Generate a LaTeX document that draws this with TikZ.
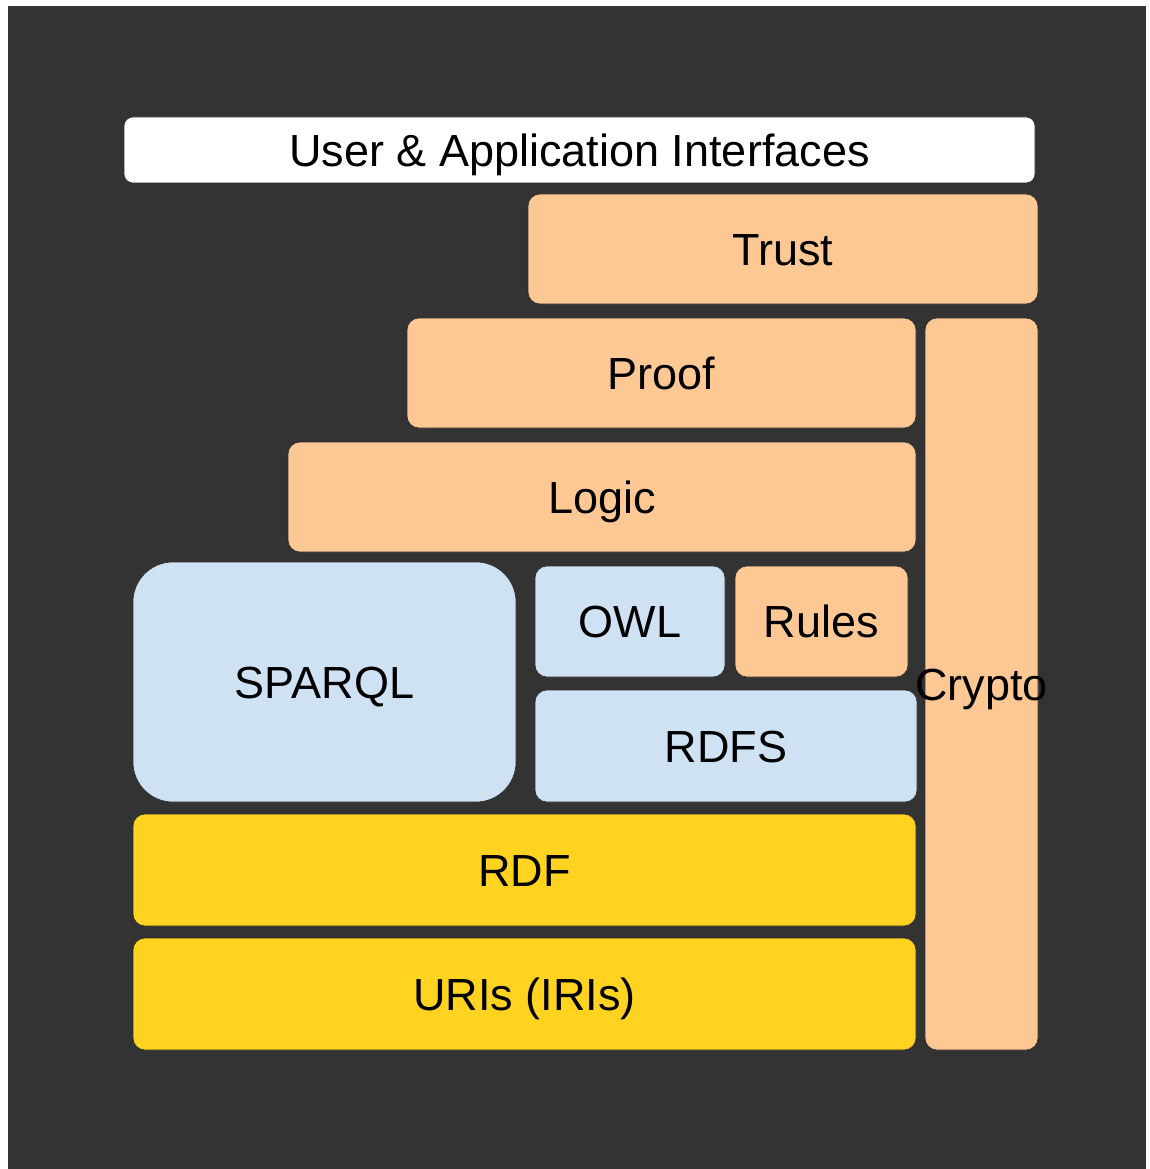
\documentclass[tikz,border=0pt]{standalone}
\usepackage{fontspec}
\setmainfont{Liberation Sans}
\definecolor{bgdark}{HTML}{333333}
\definecolor{peach}{HTML}{FEC895}
\definecolor{lblue}{HTML}{CFE2F3}
\definecolor{yel}{HTML}{FFD320}
\definecolor{edge}{HTML}{2A2A2A}
\begin{document}
\begin{tikzpicture}[x=1pt,y=-1pt,
  lbl/.style={font=\fontsize{45}{54}\selectfont, text=black, text height=32.2pt, text depth=0pt},
  blk/.style={rectangle, rounded corners=12pt, inner sep=0pt, draw=edge, line width=0.6pt, lbl},
  peachblk/.style={blk, fill=peach},
  blueblk/.style={blk, fill=lblue},
  yelblk/.style={blk, fill=yel}]
\useasboundingbox (0,0) rectangle (1149,1169);
\fill[white] (0,0) rectangle (1149,1169);
\fill[bgdark] (8,6) rectangle (1146,1169);
% User & Application Interfaces
\node[blk, fill=white, rounded corners=9pt, minimum width=911pt, minimum height=66pt] (ui) at (579.5,150) {User \& Application Interfaces};
\node[peachblk, minimum width=510pt, minimum height=110pt] (trust) at (783,249) {Trust};
\node[peachblk, minimum width=509pt, minimum height=110pt] (proof) at (661.5,373) {Proof};
\node[peachblk, minimum width=113pt, minimum height=732pt] (cryptobox) at (981.5,684) {};
\node[peachblk, minimum width=628pt, minimum height=110pt] (logic) at (602,497) {Logic};
\node[blueblk, rounded corners=40pt, minimum width=383pt, minimum height=240pt] (sparql) at (324.5,682) {SPARQL};
\node[blueblk, minimum width=190pt, minimum height=111pt] (owl) at (630,621.5) {OWL};
\node[peachblk, minimum width=173pt, minimum height=111pt] (rules) at (821.5,621.5) {Rules};
\node[blueblk, minimum width=382pt, minimum height=112pt] (rdfs) at (726,746) {RDFS};
\node[yelblk, minimum width=783pt, minimum height=112pt] (rdf) at (524.5,870) {RDF};
\node[yelblk, minimum width=783pt, minimum height=112pt] (uris) at (524.5,994) {URIs (IRIs)};
\node[lbl, inner sep=0pt] (crypto) at (cryptobox.center) {Crypto};
\end{tikzpicture}
\end{document}
